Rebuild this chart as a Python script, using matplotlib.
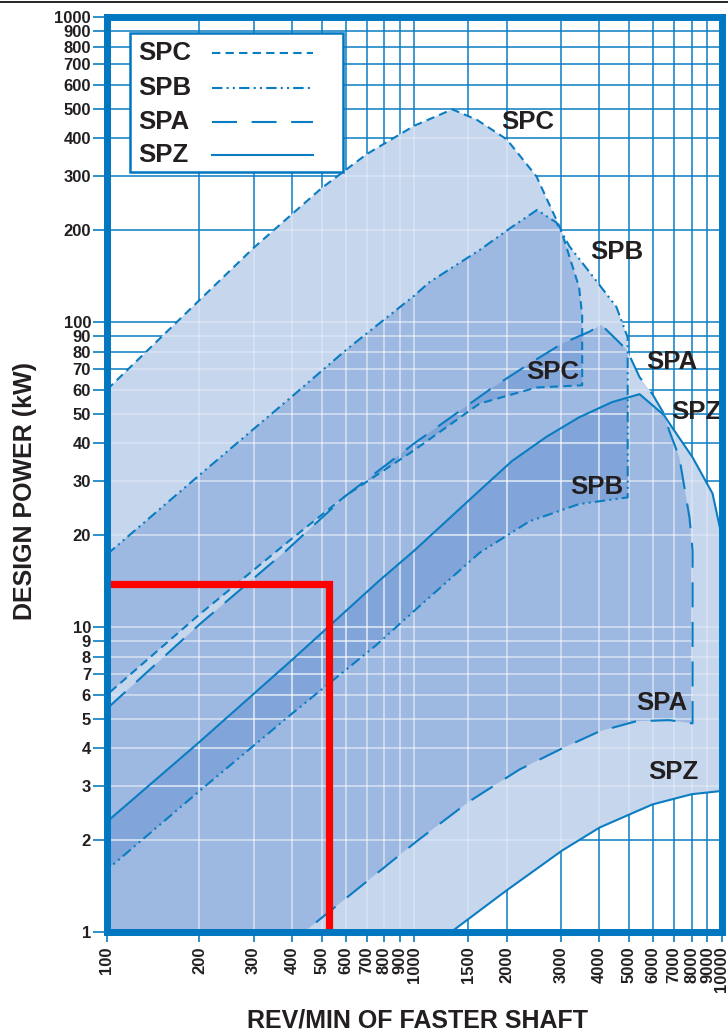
import matplotlib
matplotlib.use("Agg")
import matplotlib.pyplot as plt
import numpy as np
from matplotlib.patches import Polygon, Rectangle
from matplotlib.collections import LineCollection
from matplotlib.lines import Line2D
from matplotlib.ticker import NullLocator

plt.rcParams['font.family'] = ['Liberation Sans', 'DejaVu Sans']
plt.rcParams['font.weight'] = 'bold'

BLUE = '#0a7dc2'
FRAME = '#0077c0'
FILL = '#447bc8'
TEXT = '#231f20'

XMIN, XMAX = 100, 10000
YMIN, YMAX = 1, 1000

x_ticks = [100, 200, 300, 400, 500, 600, 700, 800, 900, 1000,
           1500, 2000, 3000, 4000, 5000, 6000, 7000, 8000, 9000, 10000]
y_ticks = [1, 2, 3, 4, 5, 6, 7, 8, 9, 10,
           20, 30, 40, 50, 60, 70, 80, 90, 100,
           200, 300, 400, 500, 600, 700, 800, 900, 1000]

# belt limits (rpm, kW)
spc_upper_x = [100, 200, 300, 500, 700, 1000, 1330, 1600, 2000, 2500, 3000, 3440, 3520]
spc_upper_y = [60, 118, 175, 275, 355, 440, 498, 460, 397, 300, 201, 130, 105]
spc_lower_x = [100, 200, 400, 600, 1000, 1630, 2500, 3520]
spc_lower_y = [6.0, 11.0, 19.5, 27, 38, 54, 61, 62]

spb_upper_x = [100, 200, 400, 600, 1000, 1120, 1630, 2080, 2510, 2900, 3200, 3900, 4550, 4950]
spb_upper_y = [17.3, 31.5, 57, 81, 122, 135, 172, 205, 233, 212, 177, 137, 112, 89]
spb_lower_x = [100, 200, 400, 750, 1000, 1630, 2370, 3440, 4950]
spb_lower_y = [1.6, 2.9, 5.2, 8.7, 11.3, 17.5, 22.2, 25.3, 26.6]

spa_upper_x = [100, 200, 383, 600, 1000, 1800, 2370, 3030, 3720, 4060,
               4920, 5410, 5960, 6500, 6760, 7290, 7870, 8050]
spa_upper_y = [5.4, 10.2, 17.8, 27, 40, 61, 73, 85, 93, 98,
               81, 66, 58, 50, 44, 36, 22.8, 17.8]
spa_lower_x = [438, 1016, 1510, 2200, 3030, 4010, 5285, 6760, 8050]
spa_lower_y = [1.0, 1.98, 2.68, 3.41, 4.0, 4.55, 4.91, 4.95, 4.83]

spz_upper_x = [100, 200, 400, 770, 1000, 1630, 2080, 2690, 3440, 4400,
               5410, 6500, 6920, 8050, 9350, 10000]
spz_upper_y = [2.3, 4.2, 7.8, 14.2, 17.8, 28, 35, 42, 48.7, 54.6,
               58, 49.5, 45, 36, 27.4, 20]
spz_lower_x = [1318, 2000, 3030, 4010, 5960, 8000, 10000]
spz_lower_y = [1.0, 1.37, 1.85, 2.2, 2.62, 2.83, 2.9]

belts = ['SPC', 'SPB', 'SPA', 'SPZ']
styles = {
    'SPC': (0, (4, 2.5)),
    'SPB': (0, (5, 2, 1, 2, 1, 2)),
    'SPA': (0, (12, 7)),
    'SPZ': '-',
}

# label positions (rpm, kW)
label_text = ['SPC', 'SPB', 'SPA', 'SPZ', 'SPC', 'SPB', 'SPA', 'SPZ']
label_x = [2344, 4571, 6902, 8260, 2831, 3935, 6398, 6950]
label_y = [453, 170, 74, 50.7, 68.6, 28.8, 5.63, 3.35]

# worked example reading
red_x = [100, 528, 528]
red_y = [13.8, 13.8, 1]


def outline(ux, uy, lx, ly):
    return list(ux) + list(lx)[::-1], list(uy) + list(ly)[::-1]


curves = {
    'SPC': outline(spc_upper_x, spc_upper_y, spc_lower_x, spc_lower_y),
    'SPB': outline(spb_upper_x, spb_upper_y, spb_lower_x, spb_lower_y),
    'SPA': outline(spa_upper_x, spa_upper_y, spa_lower_x, spa_lower_y),
    'SPZ': outline(spz_upper_x, spz_upper_y, spz_lower_x, spz_lower_y),
}
# regions that run below the bottom of the chart close on the corner
corner = {'SPC': False, 'SPB': False, 'SPA': True, 'SPZ': True}

fig = plt.figure(figsize=(7.28, 10.34), dpi=100)
ax = fig.add_axes([107 / 728, 1 - 932 / 1034, 614.5 / 728, 915 / 1034])
ax.set_xscale('log')
ax.set_yscale('log')
ax.set_xlim(XMIN, XMAX)
ax.set_ylim(YMIN, YMAX)

# blue grid on white
ax.vlines(x_ticks, YMIN, YMAX, color=BLUE, lw=1.1, zorder=1)
ax.hlines(y_ticks, XMIN, XMAX, color=BLUE, lw=1.1, zorder=1)

segs = [[(x, YMIN), (x, YMAX)] for x in x_ticks] + [[(XMIN, y), (XMAX, y)] for y in y_ticks]

for b in belts:
    xs, ys = curves[b]
    if corner[b]:
        xs = xs + [XMIN]
        ys = ys + [YMIN]
    verts = np.column_stack([xs, ys])
    base = Polygon(verts, closed=True, facecolor='white', edgecolor='none', zorder=1.5)
    ax.add_patch(base)
    ax.add_patch(Polygon(verts, closed=True, facecolor=FILL, alpha=0.31,
                         edgecolor='none', zorder=2))
    lc = LineCollection(segs, colors='white', linewidths=1.1, alpha=0.35, zorder=2.5)
    ax.add_collection(lc)
    lc.set_clip_path(base)

for b in belts:
    xs, ys = curves[b]
    ax.plot(xs, ys, color=BLUE, lw=1.5, linestyle=styles[b], zorder=3)

for t, x, y in zip(label_text, label_x, label_y):
    ax.text(x, y, t, fontsize=18.5, color=TEXT, ha='center', va='center', zorder=4)

ax.plot(red_x, red_y, color='#ff0000', lw=5.2, solid_joinstyle='miter',
        solid_capstyle='butt', zorder=5)

# legend box
ax.add_patch(Rectangle((0.0374, 0.8306), 0.3466, 0.1519, transform=ax.transAxes,
                       facecolor='white', edgecolor=FRAME, lw=1.8, zorder=6))
row_y = [0.9607, 0.9224, 0.8852, 0.8492]
for b, ry in zip(belts, row_y):
    ax.text(0.0504, ry, b, transform=ax.transAxes, fontsize=18.5, color=TEXT,
            ha='left', va='center', zorder=7)
    ax.add_line(Line2D([0.1709, 0.3352], [ry, ry], transform=ax.transAxes,
                       color=BLUE, lw=1.5, linestyle=styles[b], zorder=7))

ax.set_xticks(x_ticks)
ax.set_xticklabels([str(v) for v in x_ticks], rotation=90)
ax.set_yticks(y_ticks)
ax.set_yticklabels([str(v) for v in y_ticks])
ax.xaxis.set_minor_locator(NullLocator())
ax.yaxis.set_minor_locator(NullLocator())
ax.tick_params(axis='both', direction='out', width=1.2, color=BLUE,
               labelcolor=TEXT, labelsize=12)
ax.tick_params(axis='x', length=7, pad=3.5)
ax.tick_params(axis='y', length=10, pad=1.5)

for s in ax.spines.values():
    s.set_color(FRAME)
    s.set_linewidth(5)
    s.set_zorder(10)

fig.text(418 / 728, 1 - 1021 / 1034, 'REV/MIN OF FASTER SHAFT', fontsize=18,
         color=TEXT, ha='center', va='center')
fig.text(25 / 728, 1 - 491 / 1034, 'DESIGN POWER (kW)', fontsize=18,
         color=TEXT, ha='center', va='center', rotation=90)

fig.add_artist(Line2D([0, 1], [0.9985, 0.9985], color='black', lw=1.2))

fig.savefig('out.png', dpi=100)
